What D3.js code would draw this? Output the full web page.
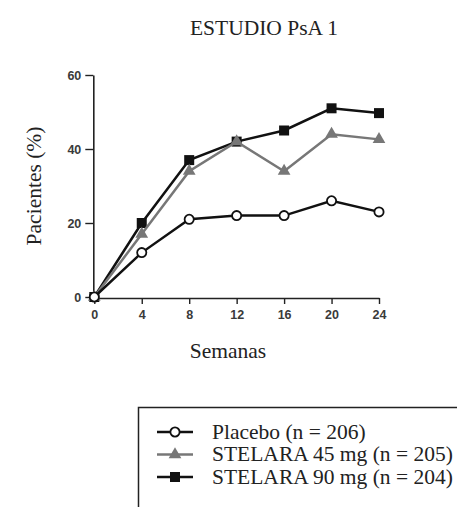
<!DOCTYPE html>
<html>
<head>
<meta charset="utf-8">
<script src="https://cdn.jsdelivr.net/npm/d3@7"></script>
<style>
  html, body { margin: 0; padding: 0; background: #fff; }
  svg { display: block; }
</style>
</head>
<body>
<svg id="chart" width="457" height="507"></svg>
<script>
const weeks = [0, 4, 8, 12, 16, 20, 24];
const placebo = [0, 12, 21, 22, 22, 26, 23];
const stelara45 = [0, 17, 34, 42, 34, 44, 42.6];
const stelara90 = [0, 20, 37, 42, 45, 51, 49.7];
const xTicks = [0, 4, 8, 12, 16, 20, 24];
const yTicks = [0, 20, 40, 60];
const legendLabels = ["Placebo (n = 206)", "STELARA 45 mg (n = 205)", "STELARA 90 mg (n = 204)"];

const svg = d3.select("#chart");
const serif = "'Liberation Serif', 'Times New Roman', serif";
const sans = "'Liberation Sans', Arial, sans-serif";

const x = d3.scaleLinear().domain([0, 24]).range([94.3, 379]);
const y = d3.scaleLinear().domain([0, 60]).range([297, 75]);

// title
svg.append("text")
	.attr("x", 264).attr("y", 35)
	.attr("text-anchor", "middle")
	.attr("font-family", serif).attr("font-size", "21.5px").attr("fill", "#222")
	.text("ESTUDIO PsA 1");

// axes
const xAxis = svg.append("g")
	.attr("transform", `translate(0, ${y(0) + 1})`)
	.call(d3.axisBottom(x).tickValues(xTicks).tickSize(6).tickPadding(6).tickSizeOuter(0));
const yAxis = svg.append("g")
	.attr("transform", `translate(${x(0) - 1}, 0)`)
	.call(d3.axisLeft(y).tickValues(yTicks).tickSize(8).tickPadding(4).tickSizeOuter(0));

[xAxis, yAxis].forEach(g => {
	g.select(".domain").attr("stroke", "#222").attr("stroke-width", 1.6);
	g.selectAll(".tick line").attr("stroke", "#222").attr("stroke-width", 1.4);
	g.selectAll(".tick text")
		.attr("font-family", sans).attr("font-size", "12.5px")
		.attr("font-weight", "bold").attr("fill", "#3a3a3a");
});

svg.append("text")
	.attr("transform", `translate(41, 186) rotate(-90)`)
	.attr("text-anchor", "middle")
	.attr("font-family", serif).attr("font-size", "21.5px").attr("fill", "#222")
	.text("Pacientes (%)");

svg.append("text")
	.attr("x", 228).attr("y", 358)
	.attr("text-anchor", "middle")
	.attr("font-family", serif).attr("font-size", "21.5px").attr("fill", "#222")
	.text("Semanas");

// series
const series = [
	{ key: "s90", values: stelara90, color: "#111", marker: "square" },
	{ key: "s45", values: stelara45, color: "#777", marker: "triangle" },
	{ key: "pla", values: placebo, color: "#111", marker: "circle" }
];

const line = d3.line().x(d => x(d.w)).y(d => y(d.v));

function drawMarker(g, type, color) {
	if (type === "circle") {
		g.append("circle").attr("r", 4.6)
			.attr("fill", "#fff").attr("stroke", color).attr("stroke-width", 1.8);
	} else if (type === "square") {
		g.append("rect").attr("x", -5).attr("y", -5).attr("width", 10).attr("height", 10)
			.attr("fill", color);
	} else {
		g.append("path").attr("d", d3.symbol(d3.symbolTriangle, 70)())
			.attr("fill", color);
	}
}

series.forEach(s => {
	const pts = weeks.map((w, i) => ({ w, v: s.values[i] }));
	svg.append("path").datum(pts)
		.attr("d", line)
		.attr("fill", "none").attr("stroke", s.color).attr("stroke-width", 2.5);
	pts.forEach(p => {
		const g = svg.append("g").attr("transform", `translate(${x(p.w)}, ${y(p.v)})`);
		drawMarker(g, s.marker, s.color);
	});
});

// legend
svg.append("path")
	.attr("d", "M138.5,507 V407.5 H457")
	.attr("fill", "none").attr("stroke", "#222").attr("stroke-width", 1.5);

const legendOrder = [series[2], series[1], series[0]];
legendOrder.forEach((s, i) => {
	const cy = 432 + i * 22.5;
	svg.append("line")
		.attr("x1", 157).attr("x2", 193).attr("y1", cy).attr("y2", cy)
		.attr("stroke", s.color).attr("stroke-width", 2.6);
	const g = svg.append("g").attr("transform", `translate(175, ${cy})`);
	drawMarker(g, s.marker, s.color);
	svg.append("text")
		.attr("x", 212).attr("y", cy + 6.5)
		.attr("font-family", serif).attr("font-size", "21.5px").attr("fill", "#222")
		.text(legendLabels[i]);
});
</script>
</body>
</html>
